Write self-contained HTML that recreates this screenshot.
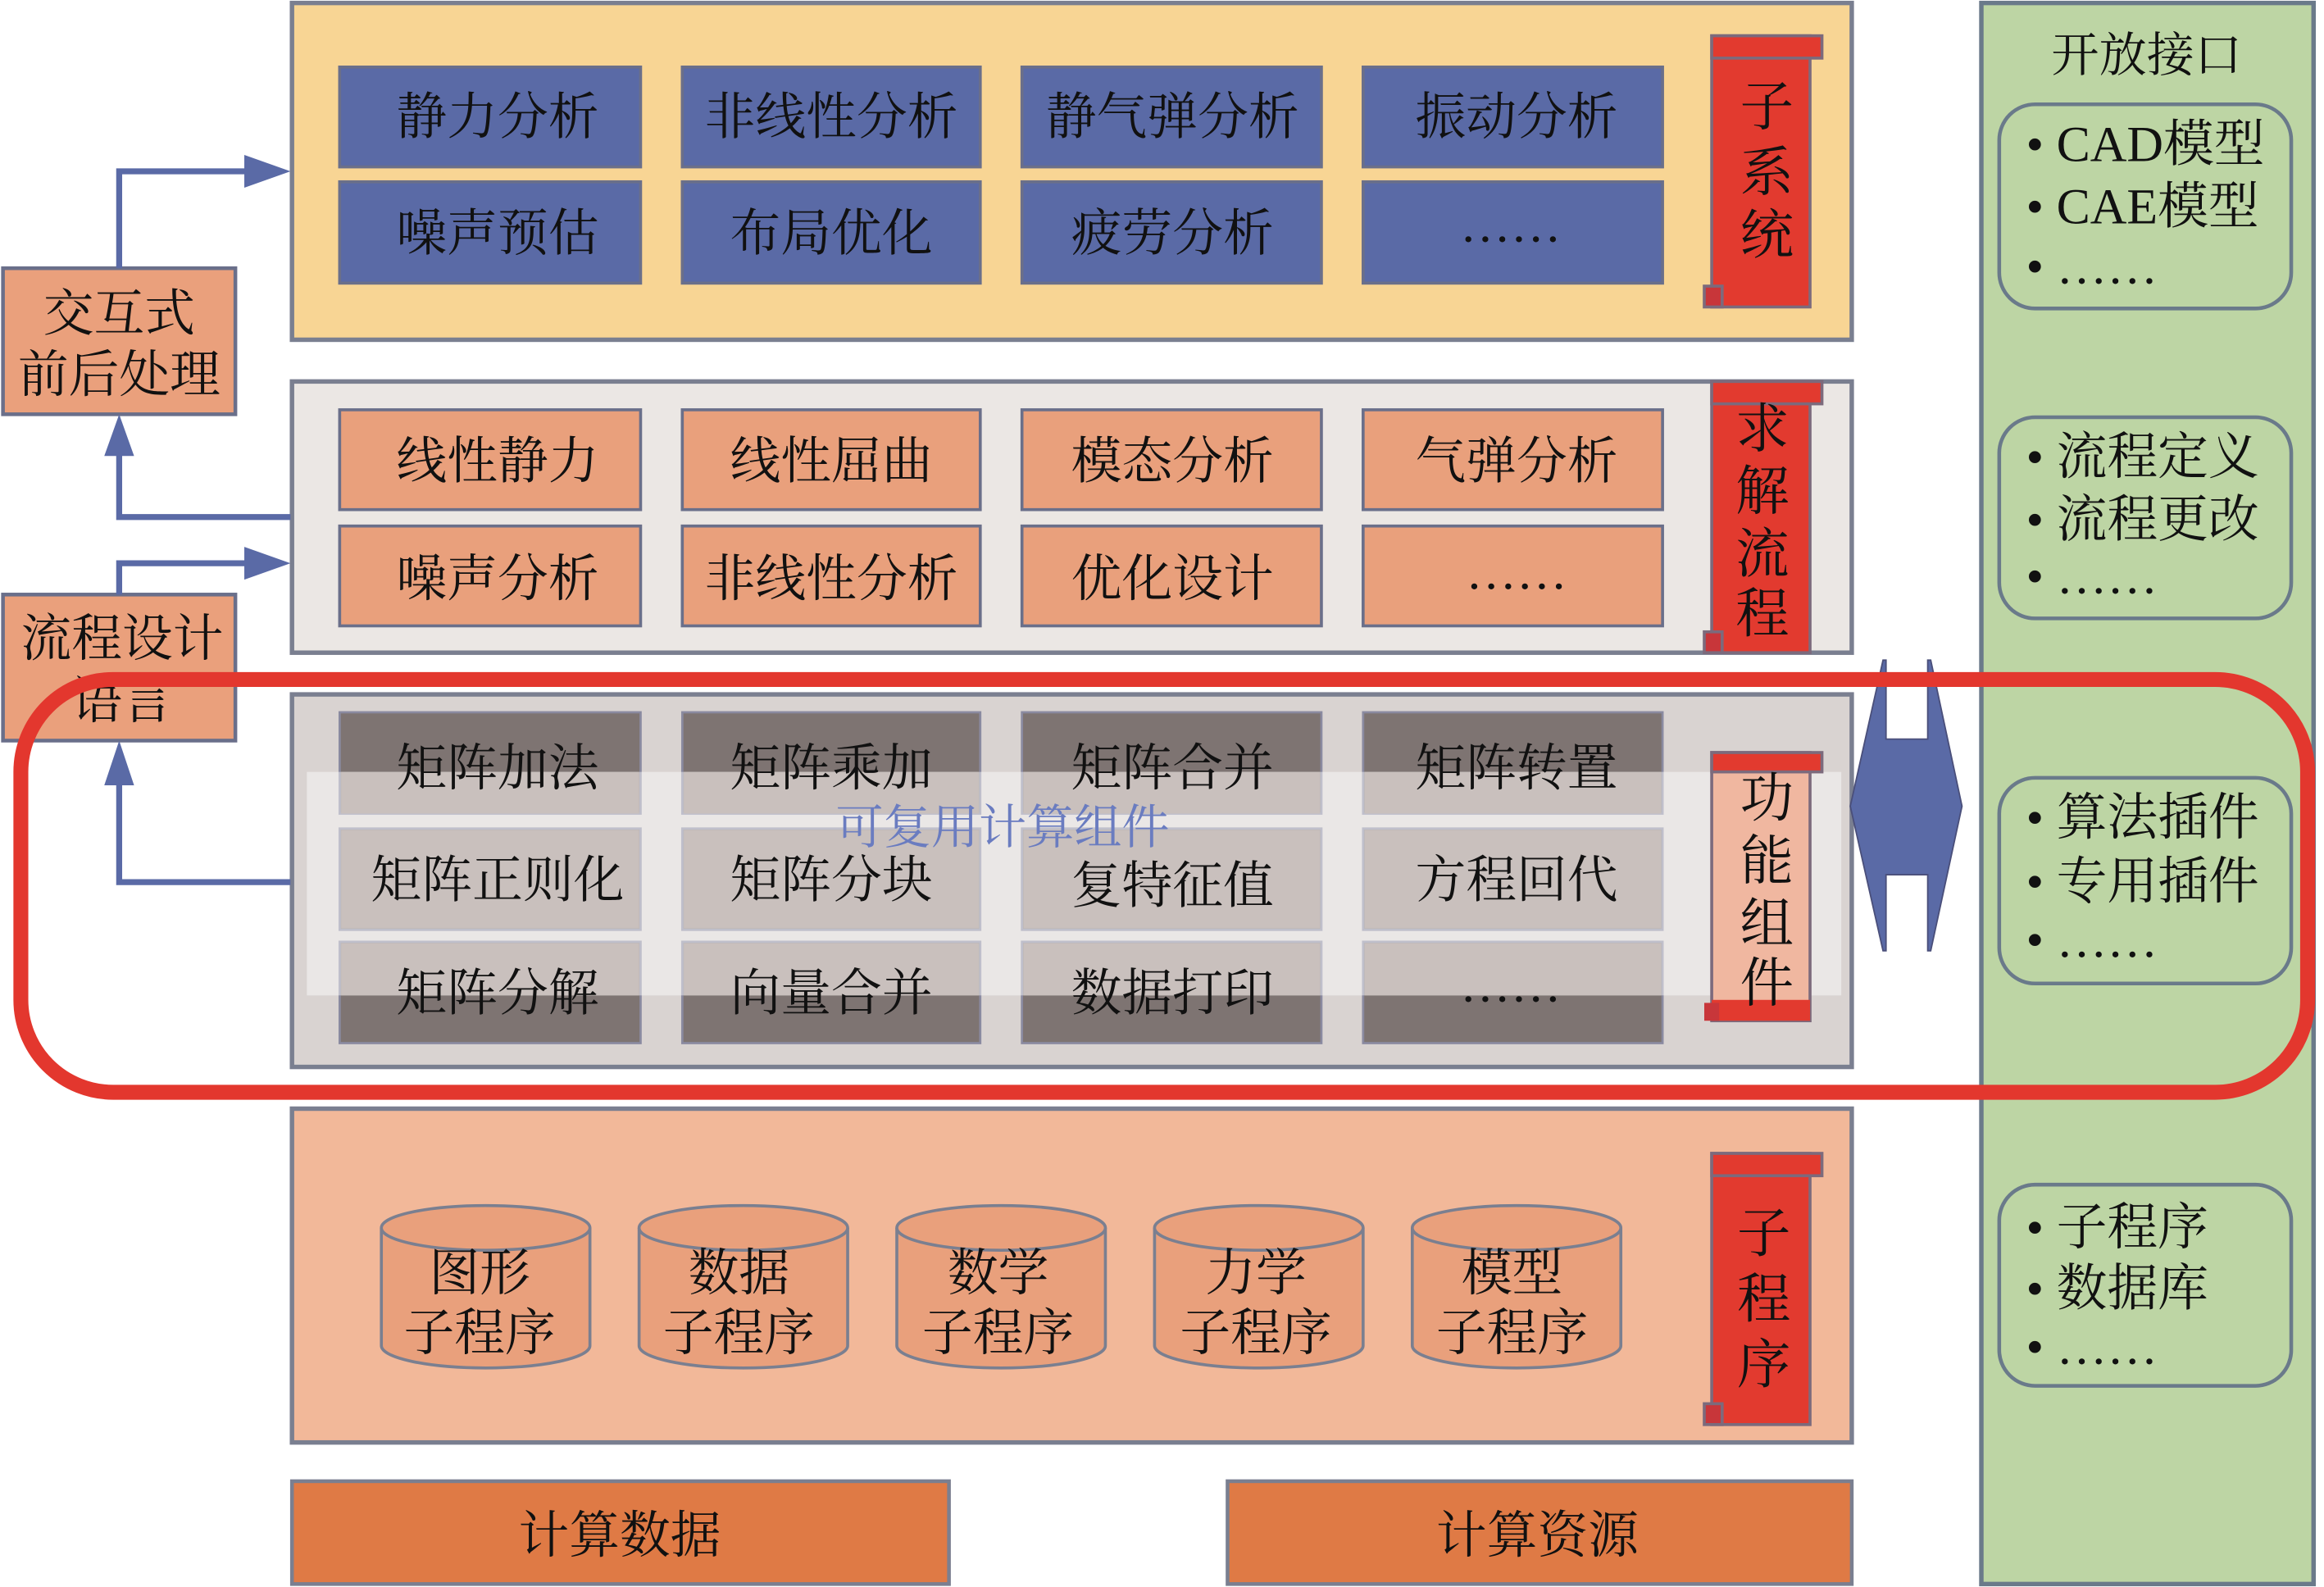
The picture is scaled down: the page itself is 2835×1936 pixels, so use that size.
<!DOCTYPE html>
<html><head><meta charset="utf-8"><style>
html,body{margin:0;padding:0;background:#fff;}
svg{display:block;}
text{font-family:"Liberation Serif","Noto Serif CJK SC",serif;fill:#111;}
</style></head><body>
<svg width="2835" height="1936" viewBox="0 0 1560 1065" preserveAspectRatio="none" xmlns="http://www.w3.org/2000/svg">
<defs>
<g id="scroll">
 <rect x="0" y="0" width="66" height="182" fill="#e23a2f" stroke="#7c6a7c" stroke-width="2"/>
 <rect x="0" y="0" width="74" height="15" fill="#e23a2f" stroke="#7c6a7c" stroke-width="2"/>
 <rect x="-5" y="168" width="12" height="14" fill="#c8363a" stroke="#7c6a7c" stroke-width="2"/>
</g>
</defs>
<!-- right green column -->
<rect x="1330" y="2" width="223" height="1061" fill="#bdd5a4" stroke="#6a7a8a" stroke-width="3"/>
<text x="1441" y="48" font-size="32" text-anchor="middle">开放接口</text>
<g fill="none" stroke="#6a7a8a" stroke-width="2.5">
<rect x="1342" y="70" width="196" height="137" rx="24"/>
<rect x="1342" y="280" width="196" height="135" rx="24"/>
<rect x="1342" y="522" width="196" height="138" rx="24"/>
<rect x="1342" y="795" width="196" height="135" rx="24"/>
</g>
<g font-size="34">
<text x="1360" y="108">• CAD模型</text>
<text x="1360" y="150">• CAE模型</text>
<text x="1360" y="190">• ……</text>
<text x="1360" y="318">• 流程定义</text>
<text x="1360" y="360">• 流程更改</text>
<text x="1360" y="398">• ……</text>
<text x="1360" y="560">• 算法插件</text>
<text x="1360" y="603">• 专用插件</text>
<text x="1360" y="642">• ……</text>
<text x="1360" y="835">• 子程序</text>
<text x="1360" y="876">• 数据库</text>
<text x="1360" y="915">• ……</text>
</g>

<!-- panel 1 -->
<rect x="196" y="2" width="1047" height="226" fill="#f8d594" stroke="#7a7f90" stroke-width="3"/>
<g fill="#5a6aa6" stroke="#6a6f8a" stroke-width="2">
<rect x="228" y="45" width="202" height="67"/><rect x="458" y="45" width="200" height="67"/><rect x="686" y="45" width="201" height="67"/><rect x="915" y="45" width="201" height="67"/>
<rect x="228" y="122" width="202" height="68"/><rect x="458" y="122" width="200" height="68"/><rect x="686" y="122" width="201" height="68"/><rect x="915" y="122" width="201" height="68"/>
</g>
<g font-size="34" text-anchor="middle">
<text x="334" y="90">静力分析</text><text x="558" y="90">非线性分析</text><text x="787" y="90">静气弹分析</text><text x="1018" y="90">振动分析</text>
<text x="334" y="168">噪声预估</text><text x="558" y="168">布局优化</text><text x="787" y="168">疲劳分析</text><text x="1014" y="162">……</text>
</g>
<use href="#scroll" x="1149" y="24"/>
<g font-size="36" text-anchor="middle"><text x="1186" y="84">子</text><text x="1186" y="128">系</text><text x="1186" y="170">统</text></g>

<!-- panel 2 -->
<rect x="196" y="256" width="1047" height="182" fill="#ebe7e4" stroke="#7a7f90" stroke-width="3"/>
<g fill="#e9a07c" stroke="#6a6f8a" stroke-width="2">
<rect x="228" y="275" width="202" height="67"/><rect x="458" y="275" width="200" height="67"/><rect x="686" y="275" width="201" height="67"/><rect x="915" y="275" width="201" height="67"/>
<rect x="228" y="353" width="202" height="67"/><rect x="458" y="353" width="200" height="67"/><rect x="686" y="353" width="201" height="67"/><rect x="915" y="353" width="201" height="67"/>
</g>
<g font-size="34" text-anchor="middle">
<text x="334" y="321">线性静力</text><text x="558" y="321">线性屈曲</text><text x="787" y="321">模态分析</text><text x="1018" y="321">气弹分析</text>
<text x="334" y="400">噪声分析</text><text x="558" y="400">非线性分析</text><text x="787" y="400">优化设计</text><text x="1018" y="395">……</text>
</g>
<use href="#scroll" x="1149" y="256"/>
<g font-size="36" text-anchor="middle"><text x="1183" y="300">求</text><text x="1183" y="342">解</text><text x="1183" y="384">流</text><text x="1183" y="424">程</text></g>

<!-- panel 3 -->
<rect x="196" y="466" width="1047" height="250" fill="#d9d3d1" stroke="#7a7f90" stroke-width="3"/>
<g fill="#7e7472" stroke="#8a8aa0" stroke-width="1.5">
<rect x="228" y="478" width="202" height="68"/><rect x="458" y="478" width="200" height="68"/><rect x="686" y="478" width="201" height="68"/><rect x="915" y="478" width="201" height="68"/>
<rect x="228" y="556" width="202" height="68"/><rect x="458" y="556" width="200" height="68"/><rect x="686" y="556" width="201" height="68"/><rect x="915" y="556" width="201" height="68"/>
<rect x="228" y="632" width="202" height="68"/><rect x="458" y="632" width="200" height="68"/><rect x="686" y="632" width="201" height="68"/><rect x="915" y="632" width="201" height="68"/>
</g>
<rect x="206" y="518" width="1030" height="150" fill="#ffffff" opacity="0.45"/>
<g fill="#c9c0bd">
<rect x="229" y="518" width="200" height="28"/><rect x="459" y="518" width="198" height="28"/><rect x="687" y="518" width="199" height="28"/><rect x="916" y="518" width="199" height="28"/>
<rect x="229" y="557" width="200" height="66"/><rect x="459" y="557" width="198" height="66"/><rect x="687" y="557" width="199" height="66"/><rect x="916" y="557" width="199" height="66"/>
<rect x="229" y="633" width="200" height="35"/><rect x="459" y="633" width="198" height="35"/><rect x="687" y="633" width="199" height="35"/><rect x="916" y="633" width="199" height="35"/>
</g>
<g font-size="34" text-anchor="middle">
<text x="334" y="527">矩阵加法</text><text x="558" y="527">矩阵乘加</text><text x="787" y="527">矩阵合并</text><text x="1018" y="527">矩阵转置</text>
<text x="334" y="602">矩阵正则化</text><text x="558" y="602">矩阵分块</text><text x="787" y="606">复特征值</text><text x="1018" y="602">方程回代</text>
<text x="334" y="678">矩阵分解</text><text x="558" y="678">向量合并</text><text x="787" y="678">数据打印</text><text x="1014" y="672">……</text>
</g>
<text x="673" y="566" font-size="32" text-anchor="middle" style="fill:#6a7cc0">可复用计算组件</text>
<g>
<rect x="1149" y="505" width="66" height="180" fill="#f0b7a0" stroke="#7c6a7c" stroke-width="2"/>
<rect x="1149" y="505" width="74" height="13" fill="#e23a2f" stroke="#7c6a7c" stroke-width="2"/>
<rect x="1149" y="671" width="66" height="14" fill="#e23a2f"/>
<rect x="1144" y="673" width="10" height="12" fill="#c8363a"/>
</g>
<g font-size="36" text-anchor="middle"><text x="1186" y="548">功</text><text x="1186" y="590">能</text><text x="1186" y="632">组</text><text x="1186" y="672">件</text></g>

<!-- panel 4 -->
<rect x="196" y="744" width="1047" height="224" fill="#f2b899" stroke="#7a7f90" stroke-width="3"/>
<g fill="#e9a07c" stroke="#7a7f90" stroke-width="2">
<path d="M256 824 V903 A70 15 0 0 0 396 903 V824"/><ellipse cx="326" cy="824" rx="70" ry="15"/>
<path d="M429 824 V903 A70 15 0 0 0 569 903 V824"/><ellipse cx="499" cy="824" rx="70" ry="15"/>
<path d="M602 824 V903 A70 15 0 0 0 742 903 V824"/><ellipse cx="672" cy="824" rx="70" ry="15"/>
<path d="M775 824 V903 A70 15 0 0 0 915 903 V824"/><ellipse cx="845" cy="824" rx="70" ry="15"/>
<path d="M948 824 V903 A70 15 0 0 0 1088 903 V824"/><ellipse cx="1018" cy="824" rx="70" ry="15"/>
</g>
<g font-size="34" text-anchor="middle">
<text x="322" y="866">图形</text><text x="322" y="906">子程序</text>
<text x="496" y="866">数据</text><text x="496" y="906">子程序</text>
<text x="670" y="866">数学</text><text x="670" y="906">子程序</text>
<text x="843" y="866">力学</text><text x="843" y="906">子程序</text>
<text x="1015" y="866">模型</text><text x="1015" y="906">子程序</text>
</g>
<use href="#scroll" x="1149" y="774"/>
<g font-size="36" text-anchor="middle"><text x="1184" y="840">子</text><text x="1184" y="884">程</text><text x="1184" y="928">序</text></g>

<!-- bottom bars -->
<rect x="196" y="994" width="441" height="69" fill="#df7a45" stroke="#7a7f90" stroke-width="2.5"/>
<rect x="824" y="994" width="419" height="69" fill="#df7a45" stroke="#7a7f90" stroke-width="2.5"/>
<g font-size="34" text-anchor="middle"><text x="416" y="1042">计算数据</text><text x="1032" y="1042">计算资源</text></g>

<!-- left boxes -->
<rect x="2" y="180" width="156" height="98" fill="#eaa07c" stroke="#6a6f8a" stroke-width="2.5"/>
<text x="80" y="222" font-size="34" text-anchor="middle">交互式</text>
<text x="80" y="263" font-size="34" text-anchor="middle">前后处理</text>
<rect x="2" y="399" width="156" height="98" fill="#eaa07c" stroke="#6a6f8a" stroke-width="2.5"/>
<text x="82" y="440" font-size="34" text-anchor="middle">流程设计</text>
<text x="82" y="482" font-size="34" text-anchor="middle">语言</text>

<!-- connectors -->
<g fill="none" stroke="#5a6aa6" stroke-width="4">
<polyline points="80,180 80,115 166,115"/>
<polyline points="195,347 80,347 80,300"/>
<polyline points="80,399 80,378 166,378"/>
<polyline points="195,592 80,592 80,525"/>
</g>
<g fill="#5a6aa6">
<polygon points="195,115 164,104 164,126"/>
<polygon points="195,378 164,367 164,389"/>
<polygon points="80,278 70,306 90,306"/>
<polygon points="80,497 70,527 90,527"/>
</g>

<!-- double arrow -->
<polygon points="1264,443 1242,541 1264,638 1266,638 1266,587 1294,587 1294,638 1296,638 1317,541 1296,443 1294,443 1294,496 1266,496 1266,443" fill="#5a6aa6" stroke="#4a4f7a" stroke-width="1"/>

<!-- red rounded highlight -->
<rect x="14" y="456" width="1535" height="277" rx="62" fill="none" stroke="#e3372e" stroke-width="10"/>
</svg>
</body></html>
